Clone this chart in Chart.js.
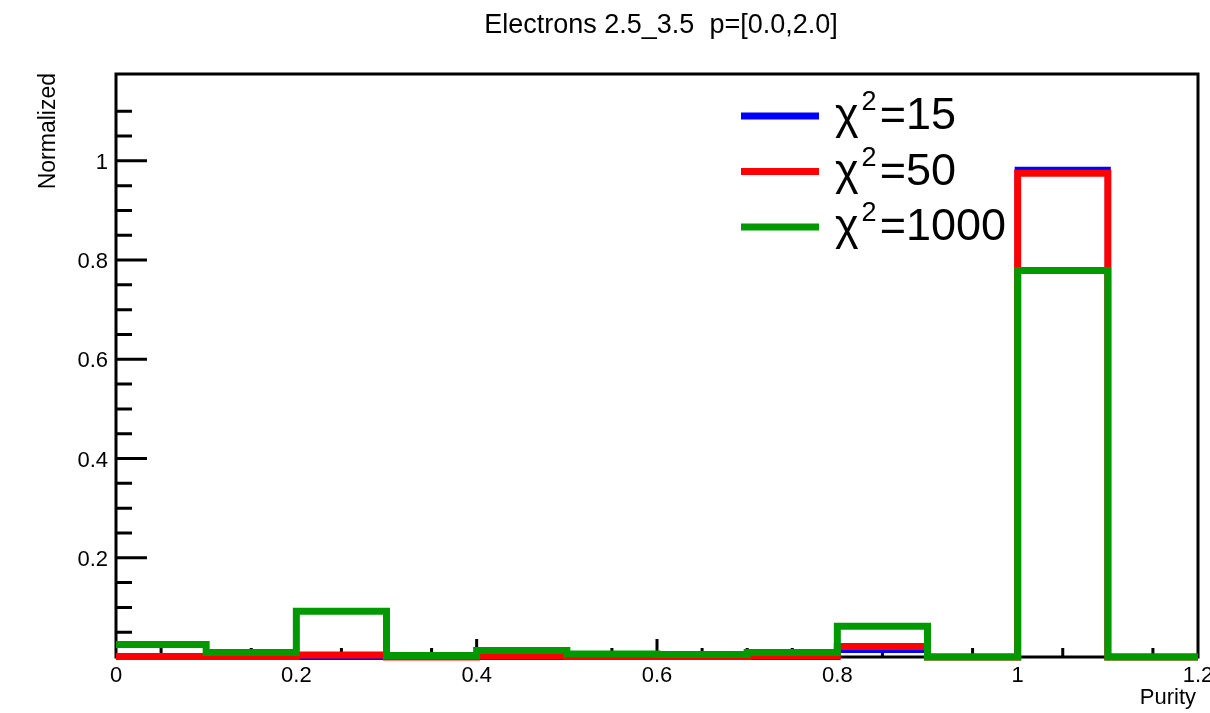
<!DOCTYPE html>
<html>
<head>
<meta charset="utf-8">
<script src="https://cdn.jsdelivr.net/npm/chart.js@4.4.0/dist/chart.umd.min.js"></script>
<style>
  body { margin: 0; background: #fff; }
  #wrap { width: 1210px; height: 713px; }
</style>
</head>
<body>
<div id="wrap"><canvas id="Chart1"></canvas></div>
<script>
// bin edges of the purity histogram
var binEdges = [0, 0.1, 0.2, 0.3, 0.4, 0.5, 0.6, 0.7, 0.8, 0.9, 1.0, 1.1, 1.2];
// normalized bin contents (12 bins)
var chi15   = [0, 0, 0, 0, 0, 0, 0, 0, 0.014, 0, 0.982, 0];
var chi50   = [0.001, 0.001, 0.004, 0, 0.002, 0.001, 0.001, 0.002, 0.021, 0, 0.975, 0];
var chi1000 = [0.025, 0.009, 0.092, 0.003, 0.013, 0.006, 0.005, 0.009, 0.062, 0, 0.779, 0];
var legendLabels = ['15', '50', '1000'];
var xLabelTicks = [0, 0.2, 0.4, 0.6, 0.8, 1, 1.2];
var yLabelTicks = [0.2, 0.4, 0.6, 0.8, 1];

var FONT = '"Liberation Sans", Arial, Helvetica, sans-serif';

function histPoints(vals) {
  var pts = [];
  for (var i = 0; i < binEdges.length; i++) {
    var v = i < vals.length ? vals[i] : vals[vals.length - 1];
    pts.push({x: binEdges[i], y: v});
  }
  return pts;
}

function txt(ctx, s, x, y, size, align) {
  ctx.save();
  ctx.font = size + 'px ' + FONT;
  ctx.textAlign = align || 'left';
  ctx.textBaseline = 'alphabetic';
  ctx.fillStyle = '#000';
  ctx.fillText(s, x, y);
  ctx.restore();
}

function near(v, step) {
  return Math.abs(v / step - Math.round(v / step)) < 1e-6;
}

// frame + ROOT style inner ticks
var framePlugin = {
  id: 'frame',
  beforeDatasetsDraw: function(chart) {
    var ctx = chart.ctx, a = chart.chartArea;
    var xs = chart.scales.x, ys = chart.scales.y;
    ctx.save();
    ctx.strokeStyle = '#000';
    ctx.lineWidth = 3;
    ctx.strokeRect(a.left, a.top, a.right - a.left, a.bottom - a.top);
    ctx.beginPath();
    xs.ticks.forEach(function(t) {
      if (t.value <= xs.min || t.value >= xs.max) return;
      var px = xs.getPixelForValue(t.value);
      var len = near(t.value, 0.2) ? 18 : 9;
      ctx.moveTo(px, a.bottom);
      ctx.lineTo(px, a.bottom - len);
    });
    ys.ticks.forEach(function(t) {
      if (t.value <= ys.min || t.value >= ys.max) return;
      if (!near(t.value, 0.05)) return;
      var py = ys.getPixelForValue(t.value);
      var len = near(t.value, 0.2) ? 31 : 16;
      ctx.moveTo(a.left, py);
      ctx.lineTo(a.left + len, py);
    });
    ctx.stroke();
    ctx.restore();
  },
  afterDraw: function(chart) {
    var ctx = chart.ctx;
    var xs = chart.scales.x, ys = chart.scales.y;
    // tick labels
    xLabelTicks.forEach(function(v) {
      txt(ctx, String(v), xs.getPixelForValue(v), 682, 22, 'center');
    });
    yLabelTicks.forEach(function(v) {
      txt(ctx, String(v), 108, ys.getPixelForValue(v) + 8, 22, 'right');
    });
    // title and axis titles
    txt(ctx, 'Electrons 2.5_3.5  p=[0.0,2.0]', 661, 33, 27, 'center');
    txt(ctx, 'Purity', 1196, 704, 22, 'right');
    ctx.save();
    ctx.translate(55, 73);
    ctx.rotate(-Math.PI / 2);
    ctx.font = '23px ' + FONT;
    ctx.textAlign = 'right';
    ctx.fillStyle = '#000';
    ctx.fillText('Normalized', 0, 0);
    ctx.restore();
    // legend
    var ds = chart.data.datasets;
    for (var i = 0; i < ds.length; i++) {
      var ly = 116 + i * 55.5;
      ctx.save();
      ctx.strokeStyle = ds[i].borderColor;
      ctx.lineWidth = 7;
      ctx.beginPath();
      ctx.moveTo(741, ly);
      ctx.lineTo(819, ly);
      ctx.stroke();
      ctx.restore();
      var base = ly + 13;
      var x = 835;
      ctx.font = '45px ' + FONT;
      txt(ctx, '\u03C7', x, base, 45, 'left');
      x += ctx.measureText('\u03C7').width + 3;
      ctx.font = '27px ' + FONT;
      txt(ctx, '2', x, base - 19, 27, 'left');
      x += ctx.measureText('2').width + 3;
      txt(ctx, '=' + legendLabels[i], x, base, 45, 'left');
    }
  }
};

var ctx1 = document.getElementById('Chart1').getContext('2d');
var myChart1 = new Chart(ctx1, {
  type: 'line',
  data: {
    datasets: [{
      label: 'chi2=15',
      data: histPoints(chi15),
      borderColor: '#0000ff',
      borderWidth: 6,
      order: 3
    }, {
      label: 'chi2=50',
      data: histPoints(chi50),
      borderColor: '#ff0000',
      borderWidth: 7,
      order: 2
    }, {
      label: 'chi2=1000',
      data: histPoints(chi1000),
      borderColor: '#009900',
      borderWidth: 7,
      order: 1
    }]
  },
  options: {
    responsive: true,
    maintainAspectRatio: false,
    animation: false,
    events: [],
    layout: { padding: { left: 0, right: 12, top: 74, bottom: 0 } },
    datasets: {
      line: {
        stepped: 'before',
        pointRadius: 0,
        fill: false,
        clip: false,
        borderJoinStyle: 'miter',
        borderCapStyle: 'butt'
      }
    },
    plugins: {
      legend: { display: false },
      title: { display: false },
      tooltip: { enabled: false }
    },
    scales: {
      x: {
        type: 'linear',
        min: 0,
        max: 1.2,
        grid: { display: false },
        border: { display: false },
        ticks: { display: false, stepSize: 0.05 },
        afterFit: function(s) { s.height = 56; }
      },
      y: {
        min: 0,
        max: 1.175,
        grid: { display: false },
        border: { display: false },
        ticks: { display: false, stepSize: 0.05 },
        afterFit: function(s) { s.width = 116; }
      }
    }
  },
  plugins: [framePlugin]
});
</script>
</body>
</html>
